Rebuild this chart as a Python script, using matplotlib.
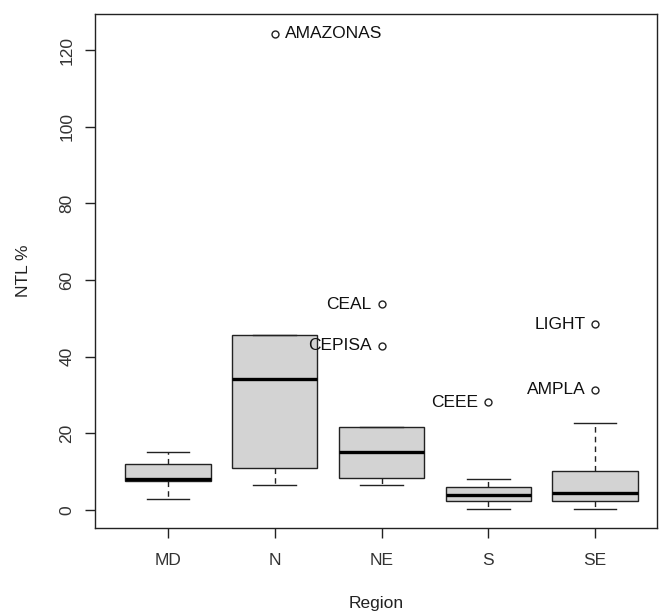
import matplotlib.pyplot as plt

# values (NTL % by region)
regions = ['MD', 'N', 'NE', 'S', 'SE']
q1 = [7.6, 11.0, 8.2, 2.2, 2.2]
med = [8.0, 34.1, 15.1, 3.9, 4.3]
q3 = [12.0, 45.5, 21.5, 5.9, 10.2]
whislo = [2.8, 6.5, 6.5, 0.2, 0.2]
whishi = [15.0, 45.5, 21.5, 8.0, 22.6]

outlier_region = [2, 3, 3, 4, 5, 5]
outlier_value = [124.2, 53.7, 42.8, 28.1, 48.4, 31.3]
outlier_name = ['AMAZONAS', 'CEAL', 'CEPISA', 'CEEE', 'LIGHT', 'AMPLA']

plt.rcParams['font.family'] = ['Liberation Sans', 'DejaVu Sans']
plt.rcParams['font.size'] = 12.5

fig = plt.figure(figsize=(6.6, 6.15), dpi=100)
ax = fig.add_axes([0.1439, 0.1415, 0.8516, 0.8357])

stats = []
for i, name in enumerate(regions):
    fl = [v for r, v in zip(outlier_region, outlier_value) if r == i + 1]
    stats.append({'label': name, 'q1': q1[i], 'med': med[i], 'q3': q3[i],
                  'whislo': whislo[i], 'whishi': whishi[i], 'fliers': fl})

ax.bxp(stats, positions=range(1, len(regions) + 1), widths=0.8,
       patch_artist=True, showfliers=True,
       boxprops=dict(facecolor='#d3d3d3', edgecolor='#222222', linewidth=1.0),
       medianprops=dict(color='black', linewidth=2.4, solid_capstyle='butt'),
       whiskerprops=dict(color='#222222', linewidth=1.0, linestyle=(0, (4, 3))),
       capprops=dict(color='#222222', linewidth=1.0),
       capwidths=0.4,
       flierprops=dict(marker='o', markerfacecolor='none', markeredgecolor='#222222',
                       markersize=5, markeredgewidth=1.0))

# outlier labels: first one to the right, the rest to the left
for r, v, name in zip(outlier_region, outlier_value, outlier_name):
    if name == 'AMAZONAS':
        ax.annotate(name, (r, v), xytext=(7, 0), textcoords='offset points',
                    ha='left', va='center', color='#111111')
    else:
        ax.annotate(name, (r, v), xytext=(-7, 0), textcoords='offset points',
                    ha='right', va='center', color='#111111')

ax.set_xlim(0.316, 5.58)
ax.set_ylim(-4.76, 129.4)
ax.set_yticks([0, 20, 40, 60, 80, 100, 120])
ax.set_xticks(range(1, len(regions) + 1))
ax.set_xticklabels(regions)
for lab in ax.get_yticklabels():
    lab.set_rotation(90)
    lab.set_va('center')

ax.tick_params(direction='out', length=7, width=1.0, color='#222222', labelcolor='#333333')
ax.tick_params(axis='x', pad=11)
ax.tick_params(axis='y', pad=8)
for s in ax.spines.values():
    s.set_color('#222222')
    s.set_linewidth(1.0)

ax.set_xlabel('Region', labelpad=20, color='#222222')
ax.set_ylabel('NTL %', labelpad=20, color='#222222')

fig.savefig('out.png', dpi=100)
